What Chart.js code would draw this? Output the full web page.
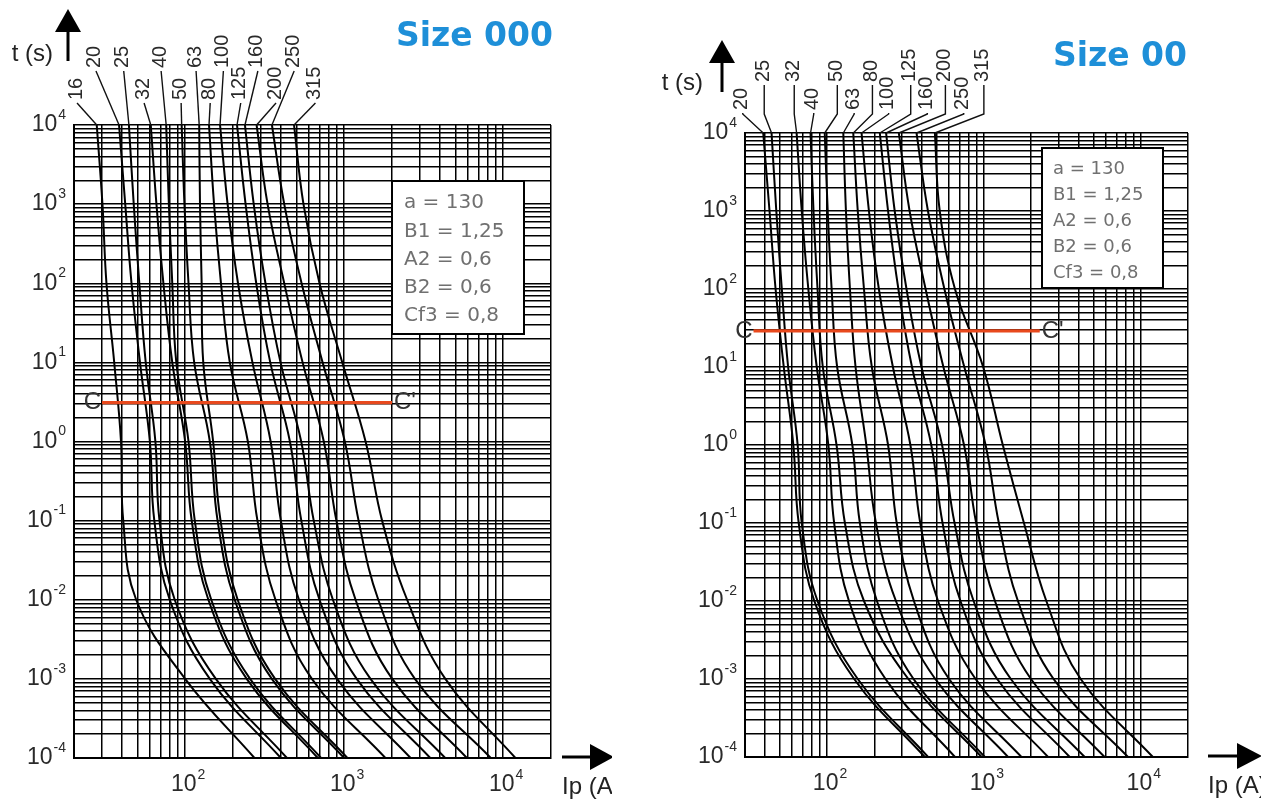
<!DOCTYPE html>
<html>
<head>
<meta charset="utf-8">
<script src="https://cdn.jsdelivr.net/npm/chart.js@4.4.1/dist/chart.umd.min.js"></script>
<style>
  html, body { margin: 0; padding: 0; background: #fff; }
  body { width: 1261px; height: 801px; position: relative; overflow: hidden; }
  canvas { position: absolute; top: 0; }
  #c000 { left: 0; }
  #c00 { left: 630px; }
</style>
</head>
<body>
<canvas id="c000" width="612" height="801"></canvas>
<canvas id="c00" width="631" height="801"></canvas>
<script>
var tLevels = [1e4, 1e3, 1e2, 1e1, 1, 0.1, 0.01, 1e-3, 1e-4];

// fuse parameters shown in the white box
var params = ['a = 130', 'B1 = 1,25', 'A2 = 0,6', 'B2 = 0,6', 'Cf3 = 0,8'];

//================================================================================
// Size 000 : prospective current Ip (A) at each tLevel
//================================================================================
var ratings000 = [16, 20, 25, 32, 40, 50, 63, 80, 100, 125, 160, 200, 250, 315];
var s000_16  = [27.8, 30.2, 32, 35.8, 39.5, 40.8, 49.2, 100, 273];
var s000_20  = [38.4, 42, 46, 52, 60, 64, 80, 143, 400];
var s000_25  = [44.3, 47.5, 51.5, 56.5, 65, 69, 86, 156, 437];
var s000_32  = [60.8, 66, 73, 83, 100, 110, 140, 244, 683];
var s000_40  = [76, 79, 83, 88, 105, 115, 146, 256, 716];
var s000_50  = [95.1, 99, 105, 114, 143, 160, 205, 351, 1000];
var s000_63  = [122.6, 124, 127, 130, 150, 167, 214, 368, 1049];
var s000_80  = [141.3, 152, 168, 191, 248, 285, 370, 627, 1819];
var s000_100 = [165.8, 185, 215, 265, 345, 400, 520, 903, 2618];
var s000_125 = [212, 240, 280, 343, 456, 538, 700, 1200, 3482];
var s000_160 = [237.8, 270, 320, 398, 537, 644, 850, 1465, 4323];
var s000_200 = [281.5, 330, 420, 548, 745, 894, 1180, 2007, 5920];
var s000_250 = [351.5, 420, 540, 732, 1010, 1233, 1640, 2787, 8360];
var s000_315 = [484, 555, 700, 973, 1364, 1733, 2490, 4330, 11950];
var curves000 = [s000_16, s000_20, s000_25, s000_32, s000_40, s000_50, s000_63,
                 s000_80, s000_100, s000_125, s000_160, s000_200, s000_250, s000_315];
// where the rating numbers sit above the grid (A) and which row (0 = upper, 1 = lower)
var labelAt000  = [20.6, 27.1, 40.5, 54.4, 69.6, 93.0, 115.5, 141.7, 171.5, 220.5, 282.6, 367.5, 478, 650.5];
var labelRow000 = [1, 0, 0, 1, 0, 1, 0, 1, 0, 1, 0, 1, 0, 1];
var cLine000 = [30, 2000];
var cTime000 = 3.1;

//================================================================================
// Size 00
//================================================================================
var ratings00 = [20, 25, 32, 40, 50, 63, 80, 100, 125, 160, 200, 250, 315];
var s00_20  = [39.2, 43, 47, 53, 61, 66, 83, 149, 420];
var s00_25  = [44.3, 47.5, 51.5, 56.5, 65, 69, 87, 157, 441];
var s00_32  = [64, 69, 76, 86, 102, 111, 138, 236, 654];
var s00_40  = [78.5, 82, 87, 94, 115, 130, 172, 330, 967];
var s00_50  = [96.7, 101, 107, 116, 145, 162, 208, 356, 1014];
var s00_63  = [127, 132, 140, 152, 178, 205, 275, 490, 1426];
var s00_80  = [147, 157, 172, 193, 245, 278, 358, 600, 1736];
var s00_100 = [166, 185, 214, 263, 340, 393, 510, 885, 2565];
var s00_125 = [217, 245, 285, 348, 462, 545, 709, 1215, 3523];
var s00_160 = [238, 270, 321, 400, 541, 650, 860, 1485, 4390];
var s00_200 = [287, 336, 425, 552, 747, 893, 1176, 1995, 5877];
var s00_250 = [372, 440, 560, 750, 1025, 1245, 1648, 2780, 8293];
var s00_315 = [487, 523, 654, 989, 1320, 1800, 2500, 4140, 11940];
var curves00 = [s00_20, s00_25, s00_32, s00_40, s00_50, s00_63, s00_80,
                s00_100, s00_125, s00_160, s00_200, s00_250, s00_315];
var labelAt00  = [28.6, 39.2, 60.9, 81.1, 114.6, 146.8, 191.9, 243.5, 336.6, 429.7, 560, 733, 985];
var labelRow00 = [1, 0, 0, 1, 0, 1, 0, 1, 0, 1, 0, 1, 0];
var cLine00 = [34, 2270];
var cTime00 = 29;

//================================================================================
// helpers
//================================================================================
var FONT = '"Liberation Sans", Arial, sans-serif';

function decadeExp(v) {
    var e = Math.log10(v);
    var r = Math.round(e);
    if (Math.abs(e - r) > 1e-6) return null;
    return r;
}

// 1..9 x 10^n gridlines, no 1.5 steps
function logGridTicks(scale) {
    var ticks = [];
    var lo = Math.floor(Math.log10(scale.min));
    var hi = Math.ceil(Math.log10(scale.max));
    for (var e = lo; e <= hi; e++) {
        for (var m = 1; m <= 9; m++) {
            var v = parseFloat((m * Math.pow(10, e)).toPrecision(6));
            if (v >= scale.min * 0.999 && v <= scale.max * 1.001) ticks.push({value: v});
        }
    }
    scale.ticks = ticks;
}

function curveData(values) {
    return values.map(function (I, i) { return {x: I, y: tLevels[i]}; });
}

// "10" with a raised exponent; anchor = 'right' (y axis) or 'center' (x axis)
function powerLabel(ctx, exp, x, y, anchor) {
    var base = '10', sup = String(exp);
    ctx.font = '23px ' + FONT;
    var wb = ctx.measureText(base).width;
    ctx.font = '14px ' + FONT;
    var ws = ctx.measureText(sup).width;
    var w = wb + 1 + ws;
    var left = anchor === 'right' ? x - w : x - w / 2;
    ctx.textAlign = 'left';
    ctx.textBaseline = 'middle';
    ctx.font = '23px ' + FONT;
    ctx.fillText(base, left, y);
    ctx.font = '14px ' + FONT;
    ctx.fillText(sup, left + wb + 1, y - 10);
}

function decorPlugin(d) {
    return {
        id: 'decor',
        afterDraw: function (chart) {
            var ctx = chart.ctx;
            var xs = chart.scales.x, ys = chart.scales.y, area = chart.chartArea;
            ctx.save();

            // decade tick labels
            ctx.fillStyle = '#2a2a2a';
            ys.ticks.forEach(function (t) {
                var e = decadeExp(t.value);
                if (e === null) return;
                powerLabel(ctx, e, area.left - 8, ys.getPixelForValue(t.value), 'right');
            });
            xs.ticks.forEach(function (t) {
                var e = decadeExp(t.value);
                if (e === null) return;
                powerLabel(ctx, e, xs.getPixelForValue(t.value) + 3, area.bottom + 27, 'center');
            });

            // rating numbers + leader lines
            ctx.fillStyle = '#2a2a2a';
            ctx.strokeStyle = '#111';
            ctx.lineWidth = 1.4;
            ctx.font = '20px ' + FONT;
            for (var i = 0; i < d.ratings.length; i++) {
                var lx = xs.getPixelForValue(d.labelAt[i]);
                var bottom = area.top + d.rowOffsets[d.labelRow[i]];
                var tx = xs.getPixelForValue(d.curves[i][0]);
                ctx.save();
                ctx.translate(lx, bottom);
                ctx.rotate(-Math.PI / 2);
                ctx.textAlign = 'left';
                ctx.textBaseline = 'middle';
                ctx.fillText(String(d.ratings[i]), 0, 0);
                ctx.restore();
                ctx.beginPath();
                ctx.moveTo(lx + 1, bottom + 3);
                if (d.kink && bottom + 3 < area.top - d.kink) {
                    ctx.lineTo(lx + 1, area.top - d.kink);
                }
                ctx.lineTo(tx, area.top);
                ctx.stroke();
            }

            // C - C' labels
            ctx.font = '24px ' + FONT;
            ctx.fillStyle = '#333';
            ctx.textBaseline = 'middle';
            var cy = ys.getPixelForValue(d.cTime);
            ctx.textAlign = 'right';
            ctx.fillText('C', xs.getPixelForValue(d.cLine[0]) - 1, cy);
            ctx.textAlign = 'left';
            ctx.fillText("C'", xs.getPixelForValue(d.cLine[1]) + 2, cy);

            // parameter box
            var b = d.box;
            ctx.fillStyle = '#fff';
            ctx.fillRect(b.x, b.y, b.w, b.h);
            ctx.strokeStyle = '#000';
            ctx.lineWidth = 2;
            ctx.strokeRect(b.x, b.y, b.w, b.h);
            ctx.fillStyle = '#707070';
            ctx.font = b.font + 'px "DejaVu Sans", sans-serif';
            ctx.textAlign = 'left';
            ctx.textBaseline = 'middle';
            for (var k = 0; k < params.length; k++) {
                ctx.fillText(params[k], b.x + b.pad, b.y + b.first + k * b.step);
            }

            // title
            ctx.fillStyle = '#1e8fd8';
            ctx.font = 'bold 33px "DejaVu Sans", sans-serif';
            ctx.textAlign = 'right';
            ctx.fillText(d.title, d.titleX, d.titleY);

            // t (s) with arrow up
            ctx.fillStyle = '#222';
            ctx.strokeStyle = '#000';
            ctx.font = '24px ' + FONT;
            ctx.textAlign = 'right';
            ctx.fillText('t (s)', d.tLabel[0], d.tLabel[1]);
            var u = d.upArrow;
            ctx.lineWidth = 3;
            ctx.beginPath();
            ctx.moveTo(u.x, u.base);
            ctx.lineTo(u.x, u.end);
            ctx.stroke();
            ctx.fillStyle = '#000';
            ctx.beginPath();
            ctx.moveTo(u.x, u.tip);
            ctx.lineTo(u.x - 13, u.base);
            ctx.lineTo(u.x + 13, u.base);
            ctx.closePath();
            ctx.fill();

            // Ip (A) with arrow right
            var r = d.rightArrow;
            ctx.beginPath();
            ctx.moveTo(r.start, area.bottom - 1);
            ctx.lineTo(r.base, area.bottom - 1);
            ctx.stroke();
            ctx.beginPath();
            ctx.moveTo(r.tip, area.bottom - 1);
            ctx.lineTo(r.base, area.bottom - 14);
            ctx.lineTo(r.base, area.bottom + 12);
            ctx.closePath();
            ctx.fill();
            ctx.fillStyle = '#222';
            ctx.textAlign = 'left';
            ctx.fillText('Ip (A)', r.start, area.bottom + 29);

            ctx.restore();
        }
    };
}

function makeChart(id, cfg) {
    var datasets = [{
        data: [{x: cfg.cLine[0], y: cfg.cTime}, {x: cfg.cLine[1], y: cfg.cTime}],
        borderColor: '#e8491d',
        borderWidth: 3.2,
        pointRadius: 0,
        tension: 0
    }];
    cfg.curves.forEach(function (c) {
        datasets.push({
            data: curveData(c),
            borderColor: '#000',
            borderWidth: 2,
            pointRadius: 0,
            tension: 0.4
        });
    });

    return new Chart(document.getElementById(id), {
        type: 'line',
        data: {datasets: datasets},
        options: {
            responsive: false,
            animation: false,
            devicePixelRatio: 1,
            layout: {padding: {top: cfg.padTop, right: cfg.padRight, bottom: 0, left: 0}},
            plugins: {legend: {display: false}, tooltip: {enabled: false}},
            scales: {
                x: {
                    type: 'logarithmic',
                    min: cfg.xMin,
                    max: 20000,
                    afterBuildTicks: logGridTicks,
                    afterFit: function (s) { s.height = cfg.xAxisHeight; },
                    grid: {color: '#000', lineWidth: 1.5, drawTicks: false},
                    border: {color: '#000', width: 2},
                    ticks: {display: false, autoSkip: false}
                },
                y: {
                    type: 'logarithmic',
                    min: 1e-4,
                    max: 1e4,
                    afterBuildTicks: logGridTicks,
                    afterFit: function (s) { s.width = cfg.yAxisWidth; },
                    grid: {color: '#000', lineWidth: 1.5, drawTicks: false},
                    border: {color: '#000', width: 2},
                    ticks: {display: false, autoSkip: false}
                }
            }
        },
        plugins: [decorPlugin(cfg)]
    });
}

makeChart('c000', {
    curves: curves000, ratings: ratings000, labelAt: labelAt000, labelRow: labelRow000,
    cLine: cLine000, cTime: cTime000, xMin: 20,
    padTop: 125, padRight: 61, yAxisWidth: 74, xAxisHeight: 43,
    rowOffsets: [-57, -25], kink: 0,
    box: {x: 392, y: 181, w: 132, h: 153, pad: 12, first: 22, step: 28.3, font: 20},
    title: 'Size 000', titleX: 553, titleY: 37,
    tLabel: [53, 54],
    upArrow: {x: 68, tip: 9, base: 32, end: 61},
    rightArrow: {start: 562, base: 590, tip: 614}
});

makeChart('c00', {
    curves: curves00, ratings: ratings00, labelAt: labelAt00, labelRow: labelRow00,
    cLine: cLine00, cTime: cTime00, xMin: 30,
    padTop: 133, padRight: 73, yAxisWidth: 115, xAxisHeight: 44,
    rowOffsets: [-51, -23], kink: 19,
    box: {x: 412, y: 148, w: 121, h: 140, pad: 11, first: 21, step: 26.2, font: 18},
    title: 'Size 00', titleX: 557, titleY: 57,
    tLabel: [73, 83],
    upArrow: {x: 92, tip: 40, base: 63, end: 92},
    rightArrow: {start: 578, base: 607, tip: 632}
});
</script>
</body>
</html>
